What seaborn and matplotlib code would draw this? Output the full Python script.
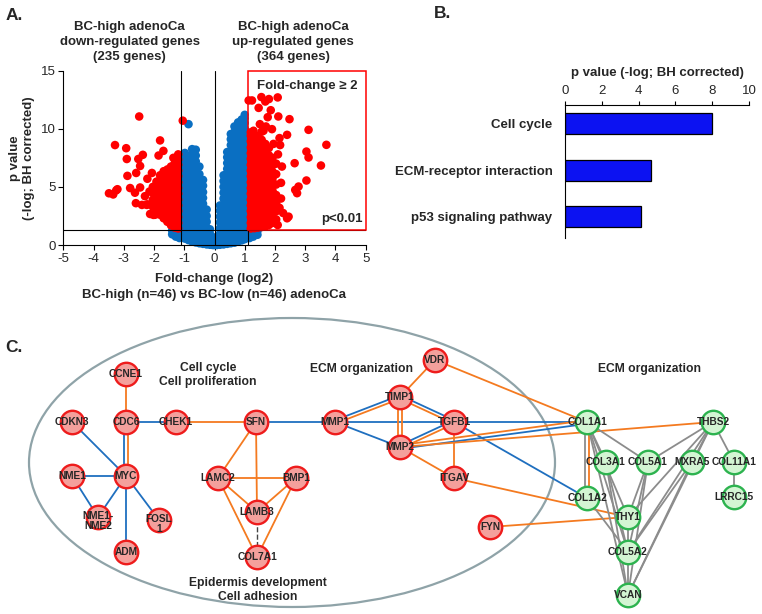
import numpy as np
import pandas as pd
import matplotlib
matplotlib.use("Agg")
import matplotlib.pyplot as plt
from matplotlib.patches import Ellipse, Rectangle
import seaborn as sns

sns.set_theme(style="ticks")
plt.rcParams['font.family'] = ['Liberation Sans', 'DejaVu Sans']
plt.rcParams['axes.unicode_minus'] = False

# ---------------- Panel A data (volcano) ----------------
# dense cloud read column by column: x (log2 FC) -> y values (-log p)
blue_cols = {
    -1.40: [0.92, 1.24],
    -1.28: [0.72, 1.08, 1.36],
    -1.16: [0.6, 0.98, 1.32],
    -0.98: [0.55, 1.02, 1.5, 2.04, 2.5, 2.98, 3.52, 4.0, 4.48, 5.02, 5.5, 5.98, 6.5, 7.02, 7.5, 7.92],
    -0.86: [0.42, 0.9, 1.4, 1.92, 2.4, 2.9, 3.42, 3.9, 4.4, 4.92, 5.4, 5.9, 6.4, 6.9, 7.35, 10.4],
    -0.74: [0.3, 0.8, 1.3, 1.82, 2.3, 2.8, 3.32, 3.8, 4.3, 4.82, 5.3, 5.8, 6.3, 6.8, 7.3, 7.8, 8.25],
    -0.62: [0.22, 0.7, 1.2, 1.72, 2.2, 2.7, 3.22, 3.7, 4.2, 4.72, 5.2, 5.7, 6.2, 6.7, 7.2, 7.7, 8.2],
    -0.50: [0.15, 0.62, 1.1, 1.62, 2.1, 2.6, 3.1, 3.62, 4.1, 4.6, 5.1, 5.62, 6.1, 6.75],
    -0.38: [0.1, 0.55, 1.05, 1.55, 2.05, 2.55, 3.05, 3.55, 4.05, 4.55, 5.1, 5.6],
    -0.26: [0.05, 0.5, 1.0, 1.5, 2.0, 2.5, 3.05],
    -0.15: [0.02, 0.45, 0.95, 1.35],
    -0.06: [0.0, 0.4, 0.65],
    0.00: [0.0, 0.3],
    0.08: [0.0, 0.38, 0.7],
    0.18: [0.02, 0.45, 0.95, 1.45, 1.95, 2.45, 2.95, 3.4],
    0.30: [0.05, 0.5, 1.0, 1.5, 2.0, 2.5, 3.0, 3.5, 4.0, 4.5, 5.0, 5.5, 6.0],
    0.42: [0.1, 0.55, 1.05, 1.55, 2.05, 2.55, 3.05, 3.55, 4.05, 4.55, 5.05, 5.55, 6.05, 6.55, 7.05, 7.55, 8.0],
    0.54: [0.15, 0.62, 1.1, 1.62, 2.1, 2.6, 3.1, 3.62, 4.1, 4.6, 5.1, 5.62, 6.1, 6.6, 7.1, 7.62, 8.1, 8.6, 9.1, 9.55],
    0.66: [0.2, 0.7, 1.2, 1.72, 2.2, 2.7, 3.2, 3.72, 4.2, 4.7, 5.2, 5.72, 6.2, 6.7, 7.2, 7.72, 8.2, 8.7, 9.2, 9.72, 10.2],
    0.78: [0.3, 0.8, 1.3, 1.82, 2.3, 2.8, 3.3, 3.82, 4.3, 4.8, 5.3, 5.82, 6.3, 6.8, 7.3, 7.82, 8.3, 8.8, 9.3, 9.82, 10.3, 10.55],
    0.90: [0.4, 0.9, 1.4, 1.92, 2.4, 2.9, 3.4, 3.92, 4.4, 4.9, 5.4, 5.92, 6.4, 6.9, 7.4, 7.92, 8.4, 8.9, 9.4, 9.92, 10.4, 10.8],
    1.00: [0.5, 1.0, 1.5, 2.02, 2.5, 3.0, 3.5, 4.02, 4.5, 5.0, 5.5, 6.02, 6.5, 7.0, 7.5, 8.02, 8.5, 9.0, 9.5, 10.02, 10.5, 10.9, 11.2],
    1.16: [0.6, 1.0],
    1.28: [0.72, 1.1],
    1.42: [0.88, 1.2],
}
up_cols = {
    1.20: [1.42, 1.9, 2.4, 2.92, 3.4, 3.9, 4.42, 4.9, 5.4, 5.92, 6.4, 6.9, 7.42, 7.9, 8.4, 8.92, 9.4, 9.7],
    1.32: [1.45, 1.95, 2.45, 2.95, 3.45, 3.95, 4.45, 4.95, 5.45, 5.95, 6.45, 6.95, 7.45, 7.95, 8.45, 8.95, 9.5],
    1.44: [1.5, 2.0, 2.5, 3.0, 3.5, 4.0, 4.5, 5.0, 5.5, 6.0, 6.5, 7.0, 7.5, 8.0, 8.5, 9.0, 9.3],
    1.56: [1.55, 2.05, 2.55, 3.05, 3.55, 4.05, 4.55, 5.05, 5.55, 6.05, 6.55, 7.05, 7.55, 8.05, 8.55, 9.05, 9.75],
    1.68: [1.6, 2.1, 2.6, 3.1, 3.6, 4.1, 4.6, 5.1, 5.6, 6.1, 6.6, 7.1, 7.6, 8.1, 8.7],
    1.80: [1.72, 2.22, 2.72, 3.22, 3.72, 4.22, 4.72, 5.22, 5.72, 6.22, 6.72, 7.22, 7.72, 8.35],
    1.92: [1.9, 2.45, 3.0, 3.55, 4.1, 4.65, 5.2, 5.75, 6.3, 6.85, 7.5],
    2.04: [2.2, 2.9, 3.6, 4.3, 5.2, 6.1, 7.0],
}
down_cols = {
    -1.20: [1.42, 1.9, 2.4, 2.92, 3.4, 3.9, 4.42, 4.9, 5.4, 5.92, 6.4, 6.9, 7.35],
    -1.32: [1.5, 2.0, 2.5, 3.0, 3.5, 4.0, 4.5, 5.0, 5.5, 6.0, 6.5, 7.0],
    -1.44: [1.7, 2.2, 2.7, 3.2, 3.7, 4.2, 4.7, 5.2, 5.7, 6.2, 6.75],
    -1.56: [2.0, 2.5, 3.0, 3.5, 4.0, 4.5, 5.0, 5.5, 6.0, 6.5],
    -1.68: [2.3, 2.8, 3.3, 3.8, 4.3, 4.8, 5.3, 5.8, 6.35],
    -1.80: [2.6, 3.1, 3.6, 4.1, 4.6, 5.1, 5.6, 6.0],
    -1.92: [2.9, 3.4, 3.9, 4.4, 4.9, 5.45],
    -2.04: [3.3, 3.9, 4.5, 5.0],
}
down_out_x = [-2.49, -1.05, -3.29, -2.92, -1.80, -2.90, -2.52, -2.37, -2.46, -1.85, -1.69, -1.36, -1.20,
              -2.88, -2.59, -2.22, -2.07, -3.49, -3.35, -3.25, -2.79, -2.46, -2.40, -2.22, -2.13, -1.97,
              -2.30, -2.15, -2.60, -3.21, -2.63, -2.24, -2.02]
down_out_y = [11.06, 10.7, 8.6, 8.33, 9.0, 7.4, 7.4, 7.76, 6.8, 7.7, 8.1, 7.5, 7.8,
              5.95, 6.2, 5.7, 6.2, 4.45, 4.35, 4.7, 4.9, 4.95, 3.45, 3.5, 2.67, 2.6,
              4.2, 4.6, 3.6, 4.8, 4.5, 3.45, 2.59]
up_out_x = [1.13, 1.24, 1.55, 1.80, 2.09, 1.68, 1.46, 1.86, 1.76, 2.11, 2.48, 1.29, 1.62, 1.90, 2.40,
            3.11, 3.70, 3.04, 3.11, 2.65, 3.52, 3.04, 2.78, 2.67, 2.73, 2.45, 2.09, 2.17, 2.23, 2.20,
            2.27, 2.40, 2.15, 2.10, 2.20, 2.15, 1.50, 1.70, 1.95]
up_out_y = [12.44, 12.44, 12.73, 12.56, 12.7, 12.35, 11.8, 11.6, 11.0, 11.06, 10.83, 9.83, 9.83, 9.97, 9.48,
            9.91, 8.62, 8.04, 7.53, 7.04, 6.84, 5.55, 5.03, 4.74, 4.46, 2.44, 1.72, 8.6, 6.75, 5.35,
            2.75, 2.3, 9.2, 7.8, 4.0, 3.2, 10.4, 10.2, 8.7]

fc_cut = 1.1
p_cut = 1.3

# ---------------- Panel B data ----------------
pathways = ["Cell cycle", "ECM-receptor interaction", "p53 signaling pathway"]
pathway_vals = [8.0, 4.7, 4.15]

# ---------------- Panel C data (network) ----------------
node_names = ["CCNE1", "CDC6", "CDKN3", "CHEK1", "SFN", "MMP1", "NME1", "MYC", "LAMC2", "BMP1",
              "NME1-NME2", "FOSL1", "LAMB3", "ADM", "COL7A1", "VDR", "TIMP1", "TGFB1", "MMP2",
              "ITGAV", "FYN", "COL1A1", "THBS2", "COL3A1", "COL5A1", "MXRA5", "COL11A1",
              "COL1A2", "LRRC15", "THY1", "COL5A2", "VCAN"]
node_x = [126, 126, 72, 176, 256, 335, 72, 126, 218, 296, 98, 159, 257, 126, 257, 435, 400, 454, 400,
          454, 490, 587, 713, 606, 648, 692, 734, 587, 734, 628, 628, 628]
node_y = [374, 422, 422, 422, 422, 422, 476, 476, 478, 478, 517, 520, 512, 552, 557, 360, 397, 422, 447,
          478, 527, 422, 422, 462, 462, 462, 462, 498, 497, 517, 552, 595]
node_group = ["up"] * 21 + ["ecm"] * 11
node_text = {"NME1-NME2": "NME1-\nNME2", "FOSL1": "FOSL\n1"}

edges = [
    ("CCNE1", "CDC6", "o", 0), ("CDC6", "MYC", "o", -1.6), ("CDC6", "MYC", "b", 1.6),
    ("CDC6", "CHEK1", "b", 0), ("CDKN3", "MYC", "b", 0), ("NME1", "MYC", "b", 0),
    ("NME1", "NME1-NME2", "b", 0), ("MYC", "NME1-NME2", "b", 0), ("MYC", "FOSL1", "b", 0),
    ("MYC", "ADM", "b", 0), ("CHEK1", "SFN", "o", 0), ("SFN", "MMP1", "b", 0),
    ("SFN", "LAMC2", "o", 0), ("SFN", "LAMB3", "o", 0), ("LAMC2", "BMP1", "o", 0),
    ("LAMC2", "LAMB3", "o", 0), ("LAMC2", "COL7A1", "o", 0), ("BMP1", "LAMB3", "o", 0),
    ("BMP1", "COL7A1", "o", 0), ("LAMB3", "COL7A1", "d", 0),
    ("MMP1", "TIMP1", "b", -1.6), ("MMP1", "TIMP1", "o", 1.6), ("MMP1", "TGFB1", "b", 0),
    ("MMP1", "MMP2", "b", 0), ("VDR", "TIMP1", "o", 0), ("VDR", "COL1A1", "o", 0),
    ("TIMP1", "MMP2", "o", -1.8), ("TIMP1", "MMP2", "o", 1.8),
    ("TIMP1", "TGFB1", "b", -1.6), ("TIMP1", "TGFB1", "o", 1.6),
    ("MMP2", "TGFB1", "b", -1.6), ("MMP2", "TGFB1", "o", 1.6),
    ("TGFB1", "COL1A1", "b", 0), ("TGFB1", "ITGAV", "o", 0), ("TGFB1", "COL1A2", "b", 0),
    ("MMP2", "ITGAV", "o", 0), ("MMP2", "COL1A1", "o", -1.8), ("MMP2", "COL1A1", "b", 1.8),
    ("MMP2", "THBS2", "o", 0), ("ITGAV", "THY1", "o", 0), ("FYN", "THY1", "o", 0),
    ("COL1A1", "COL1A2", "o", -1.8), ("COL1A1", "COL1A2", "g", 1.8),
    ("COL1A1", "COL3A1", "g", 0), ("COL1A1", "COL5A1", "g", 0), ("COL1A1", "THY1", "g", 0),
    ("COL1A1", "COL5A2", "g", 0), ("COL1A1", "VCAN", "g", 0), ("COL3A1", "COL5A2", "g", 0),
    ("COL3A1", "VCAN", "g", 0), ("COL5A1", "THBS2", "g", 0), ("COL5A1", "COL5A2", "g", 0),
    ("COL5A1", "VCAN", "g", 0), ("COL5A1", "THY1", "g", 0), ("THBS2", "MXRA5", "g", 0),
    ("THBS2", "COL11A1", "g", 0), ("THBS2", "COL5A2", "g", 0), ("THBS2", "VCAN", "g", 0),
    ("THBS2", "THY1", "g", 0), ("MXRA5", "COL5A2", "g", 0), ("MXRA5", "VCAN", "g", 0),
    ("COL11A1", "LRRC15", "g", 0), ("COL1A2", "COL5A2", "g", 0), ("THY1", "COL5A2", "g", 0),
    ("COL5A2", "VCAN", "g", 0),
]

# ---------------- Figure ----------------
W, H = 762, 614
fig = plt.figure(figsize=(W / 100, H / 100), dpi=100)

# background canvas in pixel units for panel C and letters
axc = fig.add_axes([0, 0, 1, 1])
axc.set_xlim(0, W)
axc.set_ylim(H, 0)
axc.axis("off")
axc.patch.set_alpha(0)

# ---- Panel A ----
rows = []
for cols, grp in ((blue_cols, "ns"), (down_cols, "down"), (up_cols, "up")):
    for x, ys in cols.items():
        for y in ys:
            rows.append((x, y, grp))
for xs, ys, grp in ((down_out_x, down_out_y, "down"), (up_out_x, up_out_y, "up")):
    for x, y in zip(xs, ys):
        rows.append((x, y, grp))
volc = pd.DataFrame(rows, columns=["fc", "p", "grp"])

axa = fig.add_axes([63.3 / W, 1 - 245 / H, 302.4 / W, 174.3 / H])
sns.scatterplot(data=volc, x="fc", y="p", hue="grp",
                palette={"ns": "#0a6fc2", "down": "#ff0000", "up": "#ff0000"},
                s=38, linewidth=0, alpha=1, legend=False, ax=axa)
for c in axa.collections:
    c.set_clip_on(False)
axa.set_xlim(-5, 5)
axa.set_ylim(0, 15)
axa.set_xticks(range(-5, 6))
axa.set_yticks([0, 5, 10, 15])
axa.tick_params(direction="out", length=3.5, width=0.8, labelsize=9.5, color="black", pad=2)
for s in ("top", "right"):
    axa.spines[s].set_visible(False)
for s in ("left", "bottom"):
    axa.spines[s].set_color("black")
    axa.spines[s].set_linewidth(0.8)
lk = dict(color="black", lw=0.8, zorder=5)
axa.plot([-5, 5], [p_cut, p_cut], **lk)
axa.plot([0, 0], [0, 15], **lk)
axa.plot([-fc_cut, -fc_cut], [0, 15], **lk)
axa.plot([fc_cut, fc_cut], [0, p_cut], **lk)
axa.add_patch(Rectangle((fc_cut, p_cut), 5 - fc_cut, 15 - p_cut, fill=False,
                        ec="#ff0000", lw=1.1, zorder=6, clip_on=False))
axa.set_xlabel("Fold-change (log2)\nBC-high (n=46) vs BC-low (n=46) adenoCa",
               fontsize=9.5, fontweight="bold", labelpad=6, linespacing=1.45)
axa.set_ylabel("p value\n(-log; BH corrected)", fontsize=9.5, fontweight="bold",
               labelpad=4, linespacing=1.3)
axa.text(1.4, 13.7, "Fold-change \u2265 2", fontsize=9.5, fontweight="bold", va="center")
axa.text(4.9, 2.2, "p<0.01", fontsize=9.5, fontweight="bold", ha="right", va="center")
axa.text(-2.8, 15.7, "BC-high adenoCa\ndown-regulated genes\n(235 genes)", ha="center",
         va="bottom", fontsize=9.5, fontweight="bold", linespacing=1.3)
axa.text(2.6, 15.7, "BC-high adenoCa\nup-regulated genes\n(364 genes)", ha="center",
         va="bottom", fontsize=9.5, fontweight="bold", linespacing=1.3)

# ---- Panel B ----
axb = fig.add_axes([565 / W, 1 - 238 / H, 184 / W, 133 / H])
sns.barplot(x=pathway_vals, y=pathways, orient="h", color="#0c12f2", saturation=1,
            edgecolor="black", linewidth=0.9, width=0.45, ax=axb)
axb.set_xlim(0, 10)
axb.set_ylim(2.46, -0.4)
axb.xaxis.tick_top()
axb.xaxis.set_label_position("top")
axb.set_xticks([0, 2, 4, 6, 8, 10])
axb.tick_params(axis="x", direction="out", length=3, width=0.8, labelsize=9.5, pad=3, color="black")
axb.tick_params(axis="y", length=0, labelsize=9.5, pad=9)
for lab in axb.get_yticklabels():
    lab.set_fontweight("bold")
for s in ("bottom", "right"):
    axb.spines[s].set_visible(False)
for s in ("top", "left"):
    axb.spines[s].set_color("black")
    axb.spines[s].set_linewidth(0.8)
axb.set_xlabel("p value (-log; BH corrected)", fontsize=9.5, fontweight="bold", labelpad=6)
axb.set_ylabel("")

# ---- Panel C ----
axc.add_patch(Ellipse((292, 462.5), 526, 289, fill=False, ec="#8fa3a8", lw=1.6, zorder=1))
pos = {n: (x, y) for n, x, y in zip(node_names, node_x, node_y)}
ecol = {"o": "#f47a20", "b": "#1f6fbf", "g": "#8c8c8c", "d": "#444444"}
for a, b, c, off in edges:
    (x1, y1), (x2, y2) = pos[a], pos[b]
    dx, dy = x2 - x1, y2 - y1
    L = np.hypot(dx, dy)
    nx_, ny_ = -dy / L * off, dx / L * off
    axc.plot([x1 + nx_, x2 + nx_], [y1 + ny_, y2 + ny_], color=ecol[c],
             lw=1.3 if c != "d" else 1.0, ls="--" if c == "d" else "-", zorder=2,
             solid_capstyle="butt")
nodes = pd.DataFrame({"x": node_x, "y": node_y, "grp": node_group})
red_nodes = nodes[nodes.grp == "up"]
grn_nodes = nodes[nodes.grp == "ecm"]
sns.scatterplot(data=red_nodes, x="x", y="y", s=285, color="#f4a09c", edgecolor="#ee1c1c",
                linewidth=1.7, ax=axc, legend=False, zorder=3)
sns.scatterplot(data=grn_nodes, x="x", y="y", s=285, color="#d3f5d3", edgecolor="#2db34f",
                linewidth=1.7, ax=axc, legend=False, zorder=3)
axc.set_xlim(0, W)
axc.set_ylim(H, 0)
axc.axis("off")
for n, x, y in zip(node_names, node_x, node_y):
    t = node_text.get(n, n)
    dy = 4 if "\n" in t else 0
    axc.text(x, y + dy, t, ha="center", va="center", fontsize=7.3, fontweight="bold",
             linespacing=1.0, zorder=4)

axc.text(208, 375, "Cell cycle\nCell proliferation", ha="center", va="center",
         fontsize=8.7, fontweight="bold", linespacing=1.2)
axc.text(361, 369, "ECM organization", ha="center", va="center", fontsize=8.7, fontweight="bold")
axc.text(650, 369, "ECM organization", ha="center", va="center", fontsize=8.7, fontweight="bold")
axc.text(258, 590, "Epidermis development\nCell adhesion", ha="center", va="center",
         fontsize=8.7, fontweight="bold", linespacing=1.2)

# panel letters
axc.text(6, 15, "A.", fontsize=12.5, fontweight="bold", va="center")
axc.text(434, 13, "B.", fontsize=12.5, fontweight="bold", va="center")
axc.text(5, 348, "C.", fontsize=12.5, fontweight="bold", va="center")

fig.savefig("out.png", dpi=100)
